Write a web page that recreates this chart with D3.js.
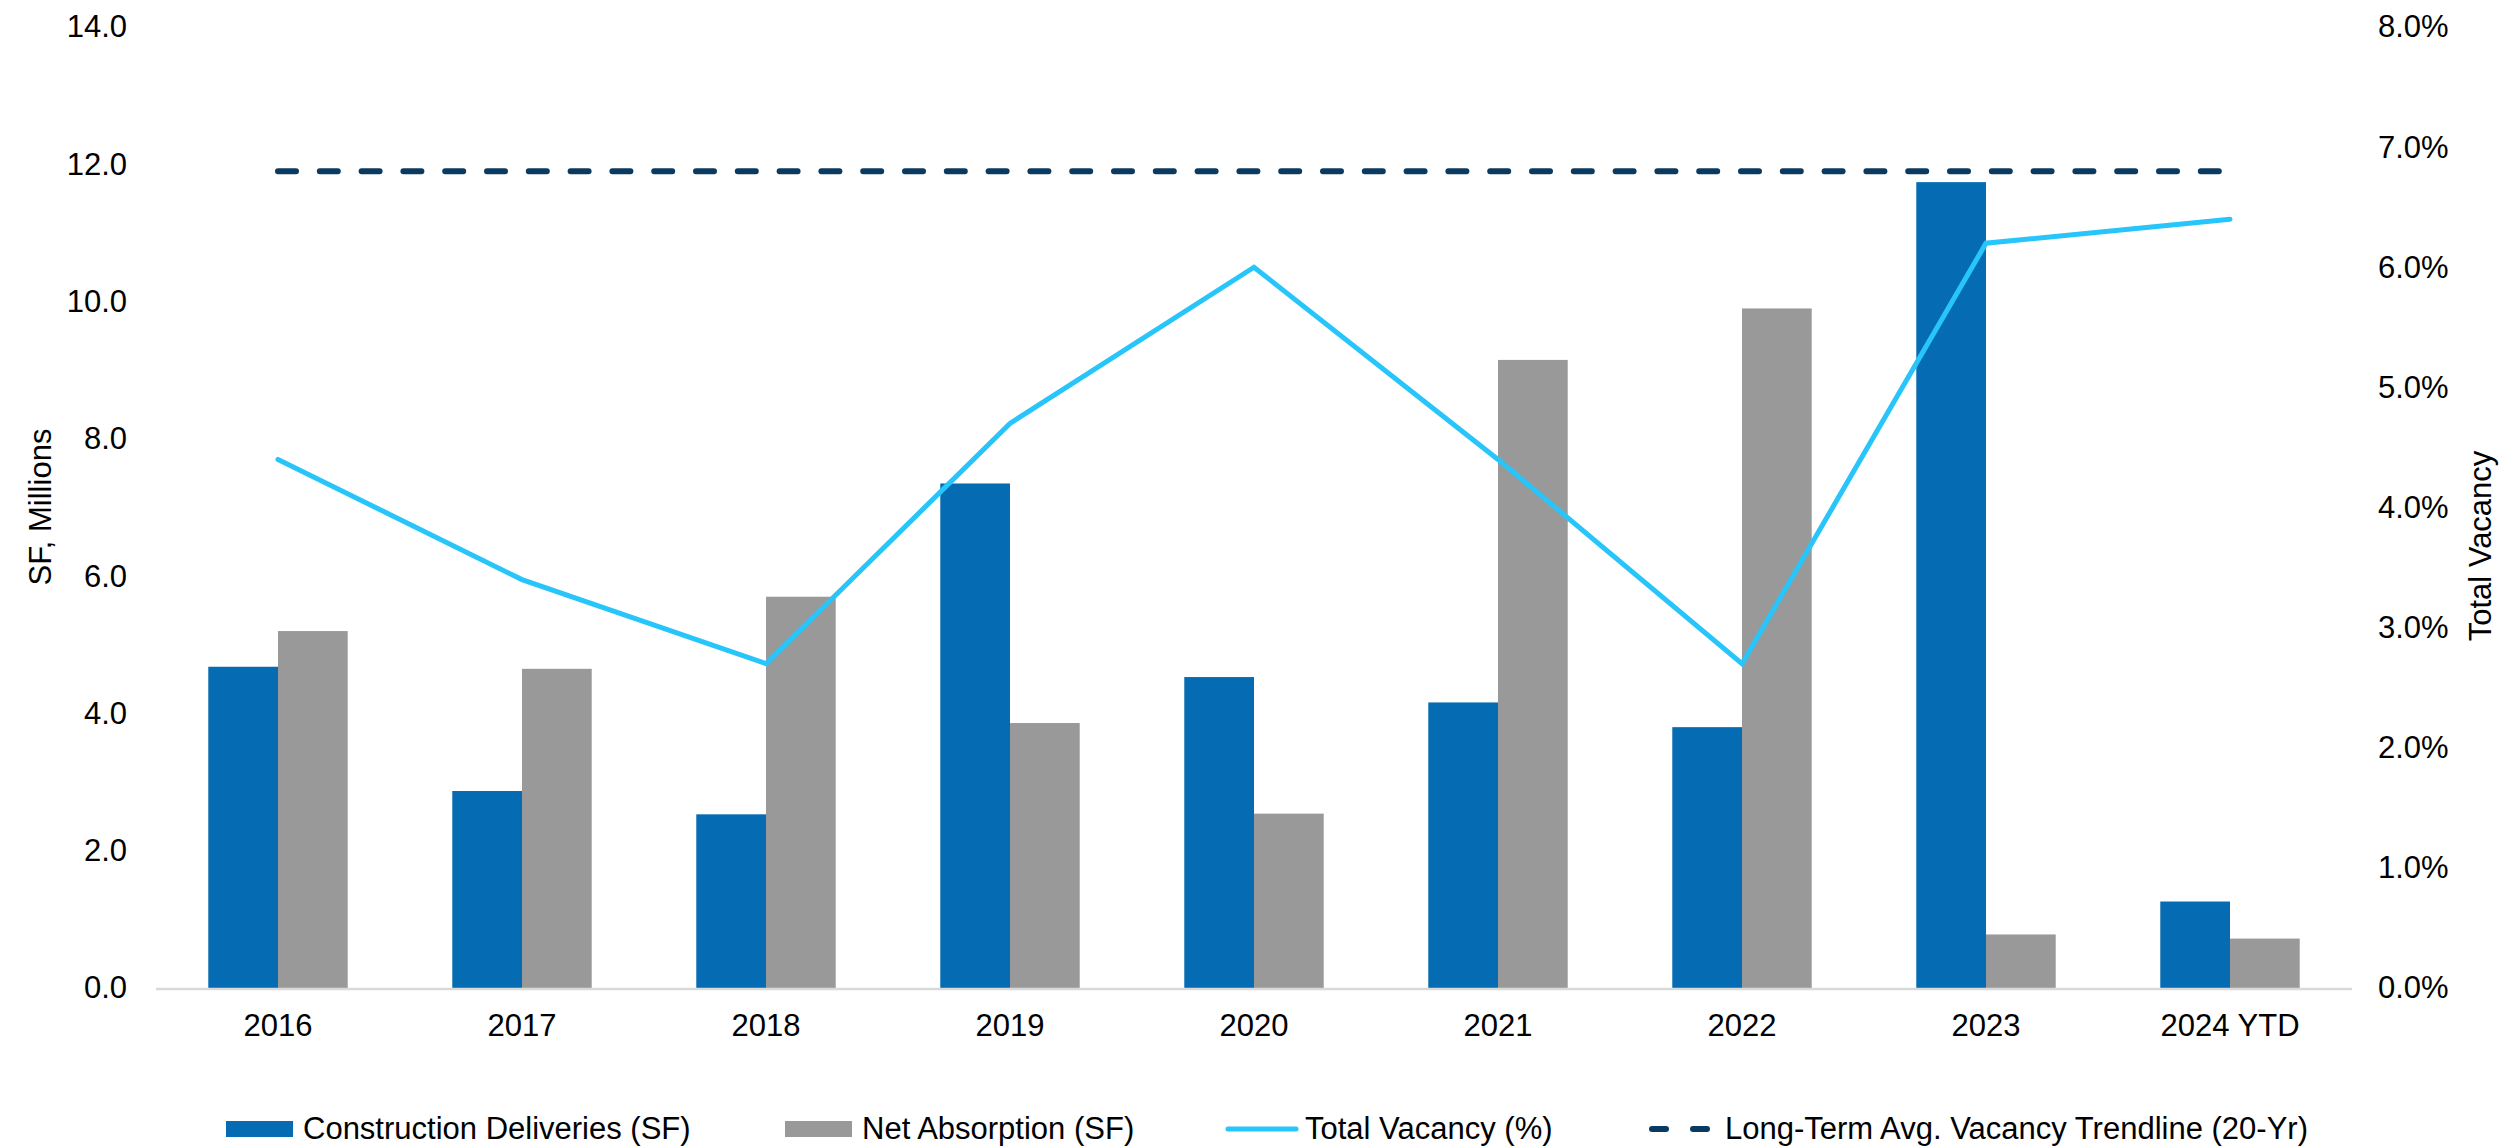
<!DOCTYPE html>
<html>
<head>
<meta charset="utf-8">
<title>Construction Deliveries, Net Absorption and Vacancy</title>
<script src="https://cdn.jsdelivr.net/npm/d3@7"></script>
<style>
  html, body { margin: 0; padding: 0; background: #ffffff; }
  svg { display: block; }
  text { font-family: "Liberation Sans", Arial, Helvetica, sans-serif; fill: #000000; }
</style>
</head>
<body>
<svg id="chart" width="2518" height="1148"></svg>
<script>
// Annual figures
const years = ["2016", "2017", "2018", "2019", "2020", "2021", "2022", "2023", "2024 YTD"];
const deliveries = [4.68, 2.87, 2.53, 7.35, 4.53, 4.16, 3.80, 11.74, 1.26];   // SF, millions
const absorption = [5.20, 4.65, 5.70, 3.86, 2.54, 9.15, 9.90, 0.78, 0.72];    // SF, millions
const vacancy = [0.044, 0.034, 0.027, 0.047, 0.060, 0.044, 0.027, 0.062, 0.064];
const longTermAvgVacancy = [0.068, 0.068, 0.068, 0.068, 0.068, 0.068, 0.068, 0.068, 0.068];

// Axis ticks
const leftTicks = [0, 2, 4, 6, 8, 10, 12, 14];
const rightTicks = [0, 0.01, 0.02, 0.03, 0.04, 0.05, 0.06, 0.07, 0.08];

const seriesKeys = ["deliveries", "absorption"];
const seriesNames = ["Construction Deliveries (SF)", "Net Absorption (SF)", "Total Vacancy (%)", "Long-Term Avg. Vacancy Trendline (20-Yr)"];

const colors = {
  deliveries: "#056bb3",
  absorption: "#999999",
  vacancy: "#27c5fa",
  trend: "#0b3a60",
  axis: "#d9d9d9"
};

const svg = d3.select("#chart");
const plot = { left: 156, right: 2352, top: 27, bottom: 988 };
const fontSize = 31;

const x0 = d3.scaleBand().domain(years).range([plot.left, plot.right]).paddingInner(0).paddingOuter(0);
const x1 = d3.scaleBand().domain(seriesKeys).range([0, x0.bandwidth()]).paddingInner(0).paddingOuter(0.75);
const yLeft = d3.scaleLinear().domain([0, 14]).range([plot.bottom, plot.top]);
const yRight = d3.scaleLinear().domain([0, 0.08]).range([plot.bottom, plot.top]);

const rows = years.map((y, i) => ({ year: y, deliveries: deliveries[i], absorption: absorption[i] }));

// Bars
const groups = svg.append("g").selectAll("g")
  .data(rows)
  .join("g")
  .attr("transform", d => `translate(${x0(d.year)},0)`);

groups.selectAll("rect")
  .data(d => seriesKeys.map(k => ({ key: k, value: d[k] })))
  .join("rect")
  .attr("x", d => x1(d.key))
  .attr("width", x1.bandwidth())
  .attr("y", d => yLeft(d.value))
  .attr("height", d => yLeft(0) - yLeft(d.value))
  .attr("fill", d => colors[d.key]);

// Category axis line
svg.append("line")
  .attr("x1", plot.left).attr("x2", plot.right)
  .attr("y1", yLeft(0) + 1).attr("y2", yLeft(0) + 1)
  .attr("stroke", colors.axis).attr("stroke-width", 2.5);

// Category labels
const xAxis = svg.append("g")
  .attr("transform", `translate(0,${plot.bottom})`)
  .call(d3.axisBottom(x0).tickSize(0).tickPadding(26));
xAxis.select(".domain").remove();
xAxis.selectAll("text").style("font-size", fontSize + "px").attr("fill", "#000");

// Left value axis
const leftAxis = svg.append("g")
  .attr("transform", `translate(127,0)`)
  .call(d3.axisLeft(yLeft).tickValues(leftTicks).tickFormat(d3.format(".1f")).tickSize(0).tickPadding(0));
leftAxis.select(".domain").remove();
leftAxis.selectAll("text").style("font-size", fontSize + "px").attr("fill", "#000");

// Right value axis
const rightAxis = svg.append("g")
  .attr("transform", `translate(2378,0)`)
  .call(d3.axisRight(yRight).tickValues(rightTicks).tickFormat(d3.format(".1%")).tickSize(0).tickPadding(0));
rightAxis.select(".domain").remove();
rightAxis.selectAll("text").style("font-size", fontSize + "px").attr("fill", "#000");

// Axis titles
svg.append("text")
  .attr("transform", "translate(51,507) rotate(-90)")
  .attr("text-anchor", "middle")
  .style("font-size", fontSize + "px")
  .text("SF, Millions");

svg.append("text")
  .attr("transform", "translate(2491,546) rotate(-90)")
  .attr("text-anchor", "middle")
  .style("font-size", fontSize + "px")
  .text("Total Vacancy");

const cx = d => x0(d) + x0.bandwidth() / 2;

// Long-term average trendline
const trendLine = d3.line().x((d, i) => cx(years[i])).y(d => yRight(d));
svg.append("path")
  .datum(longTermAvgVacancy)
  .attr("d", trendLine)
  .attr("fill", "none")
  .attr("stroke", colors.trend)
  .attr("stroke-width", 6)
  .attr("stroke-linecap", "round")
  .attr("stroke-dasharray", "18 23.8");

// Total vacancy line
const vacLine = d3.line().x((d, i) => cx(years[i])).y(d => yRight(d));
svg.append("path")
  .datum(vacancy)
  .attr("d", vacLine)
  .attr("fill", "none")
  .attr("stroke", colors.vacancy)
  .attr("stroke-width", 5)
  .attr("stroke-linecap", "round")
  .attr("stroke-linejoin", "miter");

// Legend
const legendY = 1129;
const legend = svg.append("g").style("font-size", fontSize + "px");
const legendItems = [
  { name: seriesNames[0], type: "rect", color: colors.deliveries, x: 226 },
  { name: seriesNames[1], type: "rect", color: colors.absorption, x: 785 },
  { name: seriesNames[2], type: "line", color: colors.vacancy, x: 1226 },
  { name: seriesNames[3], type: "dash", color: colors.trend, x: 1652 }
];
legendItems.forEach(item => {
  const g = legend.append("g").attr("transform", `translate(${item.x},${legendY})`);
  if (item.type === "rect") {
    g.append("rect").attr("x", 0).attr("y", -8).attr("width", 67).attr("height", 16).attr("fill", item.color);
    g.append("text").attr("x", 77).attr("y", 10).text(item.name);
  } else if (item.type === "line") {
    g.append("line").attr("x1", 2).attr("x2", 70).attr("y1", 0).attr("y2", 0)
      .attr("stroke", item.color).attr("stroke-width", 5).attr("stroke-linecap", "round");
    g.append("text").attr("x", 79).attr("y", 10).text(item.name);
  } else {
    g.append("line").attr("x1", 0).attr("x2", 60).attr("y1", 0).attr("y2", 0)
      .attr("stroke", item.color).attr("stroke-width", 6).attr("stroke-linecap", "round")
      .attr("stroke-dasharray", "14 27");
    g.append("text").attr("x", 73).attr("y", 10).text(item.name);
  }
});
</script>
</body>
</html>
